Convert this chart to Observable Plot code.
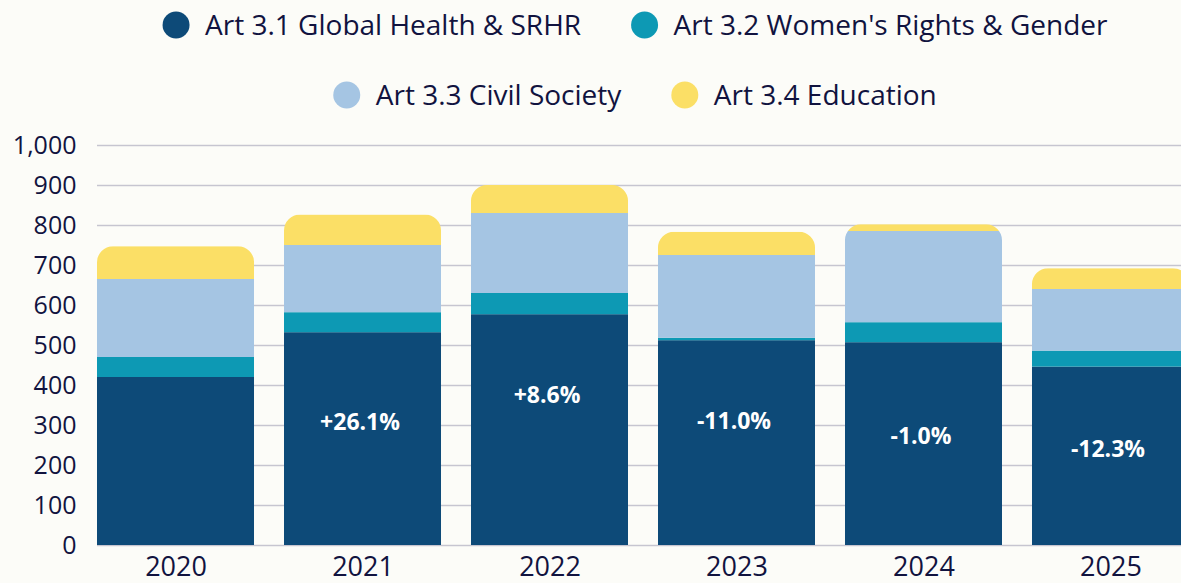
<!DOCTYPE html>
<html>
<head>
<meta charset="utf-8">
<script src="https://cdn.jsdelivr.net/npm/d3@7"></script>
<script src="https://cdn.jsdelivr.net/npm/@observablehq/plot@0.6"></script>
<style>
  html, body { margin: 0; padding: 0; background: #fcfcf8; }
  #wrap { width: 1181px; height: 583px; overflow: hidden; position: relative; background: #fcfcf8; }
  #legend { display: block; }
  #chart svg { display: block; max-width: none !important; }
</style>
</head>
<body>
<div id="wrap">
  <svg id="legend" width="1181" height="120"></svg>
  <div id="chart"></div>
</div>
<script>
// ---- data ----
const years = ["2020", "2021", "2022", "2023", "2024", "2025"];
const seriesNames = [
  "Art 3.1 Global Health & SRHR",
  "Art 3.2 Women's Rights & Gender",
  "Art 3.3 Civil Society",
  "Art 3.4 Education"
];
const seriesColors = ["#0d4a78", "#0d99b4", "#a5c5e3", "#fbdf66"];
const art31 = [420, 532, 577, 512, 507, 446];
const art32 = [50, 50, 53, 6, 50, 40];
const art33 = [195, 168, 200, 207, 228, 154];
const art34 = [82, 76, 70, 58, 17, 52];
const changeLabels = ["", "+26.1%", "+8.6%", "-11.0%", "-1.0%", "-12.3%"];
const changeLabelAt = [null, 307, 375, 310, 272, 240];
const yTicks = [0, 100, 200, 300, 400, 500, 600, 700, 800, 900, 1000];

const FONT = "'Open Sans', 'DejaVu Sans', sans-serif";
const INK = "#11133f";

// tidy table built from the arrays
const seriesValues = [art31, art32, art33, art34];
const rows = [];
years.forEach((yr, i) => {
  seriesNames.forEach((s, k) => rows.push({year: yr, series: s, value: seriesValues[k][i]}));
});
const totals = years.map((yr, i) => ({year: yr, total: art31[i] + art32[i] + art33[i] + art34[i]}));
const labels = years.map((yr, i) => ({year: yr, text: changeLabels[i], at: changeLabelAt[i]})).filter(d => d.text);

// ---- chart ----
const chart = Plot.plot({
  width: 1190,
  height: 463,
  marginLeft: 97,
  marginRight: 1,
  marginTop: 25,
  marginBottom: 38,
  style: {fontFamily: FONT, fontSize: "25px", color: INK, background: "transparent", overflow: "visible"},
  x: {domain: years, paddingInner: 0.16, paddingOuter: 0, round: false, label: null},
  y: {domain: [0, 1000], label: null},
  color: {domain: seriesNames, range: seriesColors},
  marks: [
    Plot.gridY(yTicks, {stroke: "#c6c5d0", strokeOpacity: 1, strokeWidth: 1.5}),
    Plot.barY(rows, {x: "year", y: "value", fill: "series", order: null}),
    Plot.axisY(yTicks, {tickSize: 0, tickPadding: 21, tickFormat: d3.format(","), fill: INK, fontSize: 25, label: null}),
    Plot.axisX({tickSize: 0, tickPadding: 11, fill: INK, fontSize: 27, label: null}),
    Plot.text(labels, {x: "year", y: "at", text: "text", fill: "white", fontWeight: "bold", fontSize: 23, dx: -3})
  ]
});
document.getElementById("chart").appendChild(chart);

// rounded top corners: clip the stacked bars with rounded rects from the scales
(function () {
  const xs = chart.scale("x"), ys = chart.scale("y");
  const bw = xs.bandwidth, r = 16;
  const ns = "http://www.w3.org/2000/svg";
  const defs = document.createElementNS(ns, "defs");
  const cp = document.createElementNS(ns, "clipPath");
  cp.setAttribute("id", "barclip");
  totals.forEach(d => {
    const x0 = xs.apply(d.year), x1 = x0 + bw;
    const yt = ys.apply(d.total), yb = ys.apply(0);
    const p = document.createElementNS(ns, "path");
    p.setAttribute("d", `M${x0},${yb}V${yt + r}A${r},${r} 0 0 1 ${x0 + r},${yt}H${x1 - r}A${r},${r} 0 0 1 ${x1},${yt + r}V${yb}Z`);
    cp.appendChild(p);
  });
  defs.appendChild(cp);
  chart.insertBefore(defs, chart.firstChild);
  const g = chart.querySelector('g[aria-label="bar"]');
  if (g) g.setAttribute("clip-path", "url(#barclip)");
})();

// ---- legend (two centred rows) ----
(function () {
  const ns = "http://www.w3.org/2000/svg";
  const svg = document.getElementById("legend");
  const rowsDef = [[0, 1], [2, 3]];
  const rowY = [25, 95];
  const cx = 635, rad = 13.5, txtOff = 29, gap = 50;
  rowsDef.forEach((items, ri) => {
    const g = document.createElementNS(ns, "g");
    svg.appendChild(g);
    let x = 0;
    items.forEach((k, j) => {
      const c = document.createElementNS(ns, "circle");
      c.setAttribute("cx", x + rad); c.setAttribute("cy", rowY[ri]); c.setAttribute("r", rad);
      c.setAttribute("fill", seriesColors[k]);
      g.appendChild(c);
      const t = document.createElementNS(ns, "text");
      t.setAttribute("x", x + rad + txtOff); t.setAttribute("y", rowY[ri]);
      t.setAttribute("dy", "0.35em");
      t.setAttribute("fill", INK);
      t.setAttribute("font-family", FONT);
      t.setAttribute("font-size", "28");
      t.textContent = seriesNames[k];
      g.appendChild(t);
      x = x + rad + txtOff + t.getComputedTextLength() + gap;
    });
    const w = x - gap;
    g.setAttribute("transform", `translate(${cx - w / 2},0)`);
  });
})();
</script>
</body>
</html>
